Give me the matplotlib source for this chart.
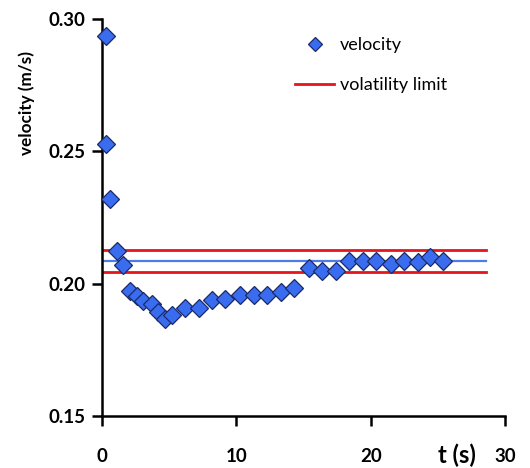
import numpy as np
import matplotlib
matplotlib.use("Agg")
import matplotlib.pyplot as plt

# readings
t = [0.3, 0.35, 0.6, 1.1, 1.6, 2.1, 2.6, 3.1, 3.7, 4.2, 4.7, 5.2,
     6.2, 7.2, 8.2, 9.2, 10.3, 11.3, 12.3, 13.3, 14.3, 15.4, 16.4, 17.4,
     18.4, 19.4, 20.4, 21.5, 22.5, 23.5, 24.4, 25.4]
velocity = [0.2935, 0.2530, 0.2320, 0.2125, 0.2071, 0.1971, 0.1955, 0.1936,
            0.1923, 0.1895, 0.1866, 0.1883, 0.1910, 0.1908, 0.1939, 0.1942,
            0.1958, 0.1957, 0.1957, 0.1970, 0.1984, 0.2058, 0.2047, 0.2047,
            0.2085, 0.2087, 0.2087, 0.2075, 0.2087, 0.2083, 0.2102, 0.2085]
mean_v = 0.2086
upper_lim = 0.2128
lower_lim = 0.2043
line_end = 28.6

plt.rcParams['font.family'] = ['Lato', 'DejaVu Sans']

fig = plt.figure(figsize=(5.3, 4.68), dpi=100)
ax = fig.add_axes([0.192, 0.111, 0.761, 0.848])

ax.plot([0, line_end], [upper_lim, upper_lim], color='#e8141c', lw=2, label='volatility limit', zorder=2)
ax.plot([0, line_end], [lower_lim, lower_lim], color='#e8141c', lw=2, zorder=2)
ax.plot([0, line_end], [mean_v, mean_v], color='#4a7dea', lw=1.6, zorder=2)
ax.plot(t, velocity, 'D', ms=9, mfc='#3a6cf0', mec='#1b2a66', mew=0.9,
        label='velocity', zorder=3, clip_on=False)

ax.set_xlim(0, 30)
ax.set_ylim(0.15, 0.30)
ax.set_xticks([0, 10, 20, 30])
ax.set_yticks([0.15, 0.20, 0.25, 0.30])
ax.set_yticklabels(['0.15', '0.20', '0.25', '0.30'])
for s in ['top', 'right']:
    ax.spines[s].set_visible(False)
for s in ['left', 'bottom']:
    ax.spines[s].set_linewidth(1.8)
ax.tick_params(direction='out', length=7, width=1.8, labelsize=13.5)
ax.tick_params(axis='x', pad=16)
ax.tick_params(axis='y', pad=5)
for lab in ax.get_xticklabels() + ax.get_yticklabels():
    lab.set_fontweight('bold')

ax.set_ylabel('velocity (m/s)', fontsize=12.3, fontweight='bold')
ax.yaxis.set_label_coords(-0.165, 0.79)
fig.text(0.862, 0.028, 't (s)', fontsize=17, fontweight='bold', ha='center', va='center')

h, l = ax.get_legend_handles_labels()
ax.legend([h[1], h[0]], [l[1], l[0]], loc='upper left', bbox_to_anchor=(0.44, 0.995),
          frameon=False, fontsize=13, handlelength=2.15, handletextpad=0.33,
          labelspacing=1.3, markerscale=0.8)

fig.savefig('out.png', dpi=100)
